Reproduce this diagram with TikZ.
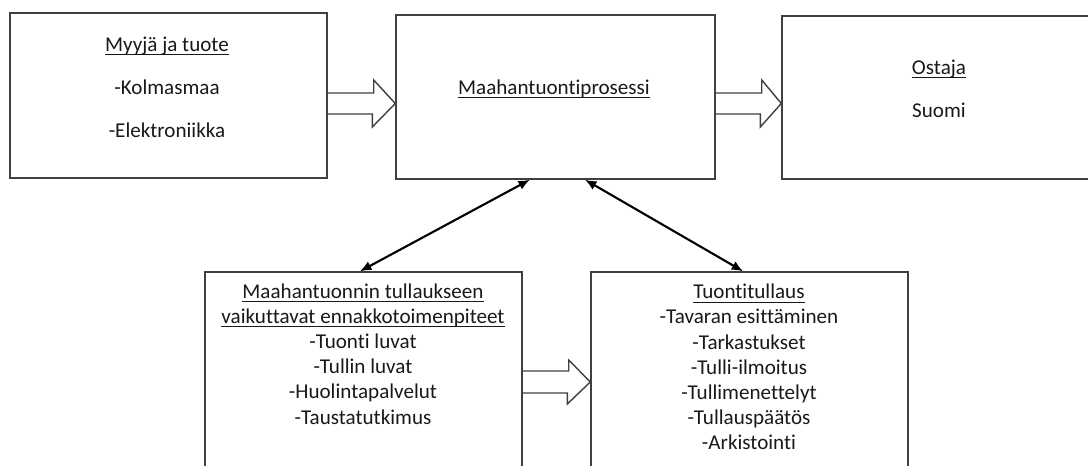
\documentclass[tikz,border=0pt]{standalone}
\usepackage{fontspec}
\setmainfont{Carlito}[Ligatures=NoCommon]
\usetikzlibrary{calc,arrows.meta}
\definecolor{boxgray}{RGB}{64,64,64}
\definecolor{txtgray}{RGB}{25,25,25}
\newsavebox\ulbox
\newcommand{\ulin}[1]{\sbox\ulbox{#1}\rlap{\rule[-2.2pt]{\wd\ulbox}{0.6pt}}\usebox\ulbox}

\begin{document}
\begin{tikzpicture}[x=0.2mm, y=-0.2mm, >={Latex[length=6.5pt,width=5.5pt]},
    box/.style={draw=boxgray, line width=0.8pt, inner sep=0pt},
    txt/.style={text=txtgray, align=center, font=\fontsize{12}{24.5}\selectfont},
    list/.style={text=txtgray, align=center, font=\fontsize{12}{14.3}\selectfont},
    hollow/.style={draw=boxgray, line width=0.8pt}]
    \useasboundingbox (0,0) rectangle (1088,465);
    % top row
    \node[box, minimum width=63.4mm, minimum height=33mm] (myyja) at (168.5,95.5) {};
    \node[box, minimum width=63.8mm, minimum height=32.8mm] (prosessi) at (555.5,97) {};
    \node[box, minimum width=64mm, minimum height=32.6mm] (ostaja) at (942,97.5) {};
    \node[txt] (myyjatxt) at (167,87) {\ulin{Myyjä ja tuote}\\-Kolmasmaa\\-Elektroniikka};
    \node[txt] (prosessitxt) at (554,89) {\ulin{Maahantuontiprosessi}};
    \node[txt] (ostajatxt) at (939,88.5) {\ulin{Ostaja}\\Suomi};
    % bottom row
    \node[box, minimum width=63.4mm, minimum height=42mm] (tulli1) at (363.5,377) {};
    \node[box, minimum width=63.4mm, minimum height=42mm] (tulli2) at (749.5,377) {};
    \node[list] (tulli1txt) at (363,354) {\ulin{Maahantuonnin tullaukseen}\\\ulin{vaikuttavat ennakkotoimenpiteet}\\-Tuonti luvat\\-Tullin luvat\\-Huolintapalvelut\\-Taustatutkimus};
    \node[list] (tulli2txt) at (749,367) {\ulin{Tuontitullaus}\\-Tavaran esittäminen\\-Tarkastukset\\-Tulli-ilmoitus\\-Tullimenettelyt\\-Tullauspäätös\\-Arkistointi};
    % hollow arrows
    \draw[hollow] (myyja.east |- 0,93) -- ++(46,0) -- ++(0,-13) -- (prosessi.west |- 0,103.5) -- ++(-23,23.5) -- ++(0,-13) -- (myyja.east |- 0,114);
    \draw[hollow] (prosessi.east |- 0,93) -- ++(46,0) -- ++(0,-13) -- (ostaja.west |- 0,103.5) -- ++(-21,23.5) -- ++(0,-13) -- (prosessi.east |- 0,114);
    \draw[hollow] (tulli1.east |- 0,371) -- ++(46,0) -- ++(0,-11) -- (tulli2.west |- 0,382) -- ++(-23,22) -- ++(0,-11) -- (tulli1.east |- 0,393);
    % two-way arrows
    \draw[<->, line width=1.2pt] ($(prosessi.south west)!0.42!(prosessi.south east)$) -- ($(tulli1.north west)!0.489!(tulli1.north east)$);
    \draw[<->, line width=1.2pt] ($(prosessi.south west)!0.592!(prosessi.south east)$) -- ($(tulli2.north west)!0.48!(tulli2.north east)$);
\end{tikzpicture}
\end{document}
